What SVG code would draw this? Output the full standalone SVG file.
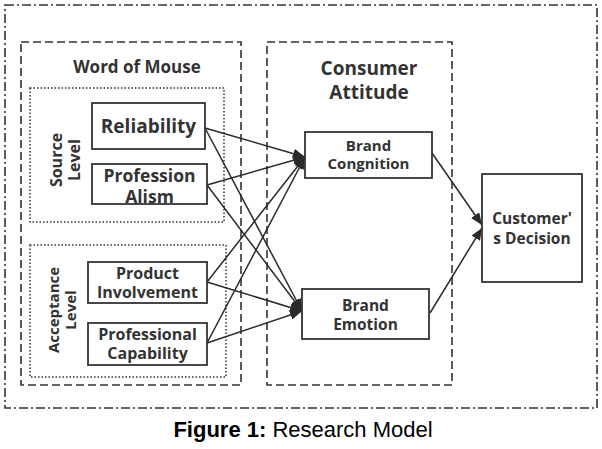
<svg xmlns="http://www.w3.org/2000/svg" width="602" height="449" viewBox="0 0 602 449">
<defs>
<style>
.frame{fill:none;stroke:#333;stroke-width:1.6}
.outer{stroke-dasharray:9,3,2,3}
.dash{stroke-dasharray:8,4}
.dot{stroke-dasharray:1.5,2;stroke-width:1.5}
.box{fill:#fff;stroke:#333;stroke-width:1.8}
.t{font-family:"Open Sans","Noto Sans",sans-serif;font-weight:bold;fill:#333;text-anchor:middle}
.edge{stroke:#2a2a2a;stroke-width:1.5;fill:none;marker-end:url(#ah)}
.cap{font-family:"Liberation Sans",Arial,sans-serif;font-size:22px;fill:#000;text-anchor:middle}
</style>
<marker id="ah" viewBox="0 0 12 10" refX="12" refY="5" markerWidth="12" markerHeight="10" markerUnits="userSpaceOnUse" orient="auto">
<path d="M0,0 L12,5 L0,10 z" fill="#2a2a2a"/>
</marker>
</defs>
<rect width="602" height="449" fill="#fff"/>
<g id="frames">
<rect class="frame outer" x="5" y="5" width="592" height="403"/>
<rect class="frame dash" x="21" y="42" width="220" height="343"/>
<rect class="frame dash" x="267" y="42" width="185" height="343"/>
<rect class="frame dot" x="30" y="88" width="194" height="134"/>
<rect class="frame dot" x="30" y="245" width="196" height="132"/>
<text class="t" x="137" y="73" font-size="17">Word of Mouse</text>
<text class="t" x="369" y="75" font-size="19">Consumer</text>
<text class="t" x="369" y="99" font-size="19">Attitude</text>
<text class="t" font-size="16" transform="translate(62,160) rotate(-90)"><tspan x="0" y="0">Source</tspan><tspan x="0" y="18">Level</tspan></text>
<text class="t" font-size="15" transform="translate(59,310) rotate(-90)"><tspan x="0" y="0">Acceptance</tspan><tspan x="0" y="17">Level</tspan></text>
</g>
<g id="connectors">
<line class="edge" x1="205" y1="128" x2="305" y2="157"/>
<line class="edge" x1="205" y1="128" x2="302" y2="311"/>
<line class="edge" x1="207" y1="185" x2="305" y2="157"/>
<line class="edge" x1="207" y1="185" x2="302" y2="311"/>
<line class="edge" x1="207" y1="282" x2="305" y2="157"/>
<line class="edge" x1="207" y1="282" x2="302" y2="311"/>
<line class="edge" x1="207" y1="343" x2="305" y2="157"/>
<line class="edge" x1="207" y1="343" x2="302" y2="311"/>
<line class="edge" x1="432" y1="153" x2="482" y2="225"/>
<line class="edge" x1="430" y1="313" x2="482" y2="228"/>
</g>
<g id="reliability">
<rect class="box" x="92" y="103" width="113" height="46"/>
<text class="t" x="148.5" y="133" font-size="19">Reliability</text>
</g>
<g id="professionalism">
<rect class="box" x="92" y="164" width="115" height="40"/>
<text class="t" x="149.5" y="182" font-size="17.5">Profession</text>
<text class="t" x="149.5" y="203" font-size="17.5">Alism</text>
</g>
<g id="product-involvement">
<rect class="box" x="88" y="262" width="119" height="41"/>
<text class="t" x="147.5" y="279" font-size="16">Product</text>
<text class="t" x="147.5" y="298" font-size="16">Involvement</text>
</g>
<g id="professional-capability">
<rect class="box" x="88" y="323" width="119" height="42"/>
<text class="t" x="147.5" y="340" font-size="16">Professional</text>
<text class="t" x="147.5" y="359" font-size="16">Capability</text>
</g>
<g id="brand-congnition">
<rect class="box" x="305" y="132" width="127" height="46"/>
<text class="t" x="368.5" y="151" font-size="15">Brand</text>
<text class="t" x="368.5" y="169" font-size="15">Congnition</text>
</g>
<g id="brand-emotion">
<rect class="box" x="302" y="289" width="127" height="50"/>
<text class="t" x="365.5" y="311" font-size="15.5">Brand</text>
<text class="t" x="365.5" y="330" font-size="15.5">Emotion</text>
</g>
<g id="customers-decision">
<rect class="box" x="482" y="174" width="100" height="108"/>
<text class="t" x="532" y="224" font-size="15.5">Customer'</text>
<text class="t" x="532" y="244" font-size="15.5">s Decision</text>
</g>
<text class="cap" x="303" y="437"><tspan font-weight="bold">Figure 1:</tspan> Research Model</text>
</svg>
